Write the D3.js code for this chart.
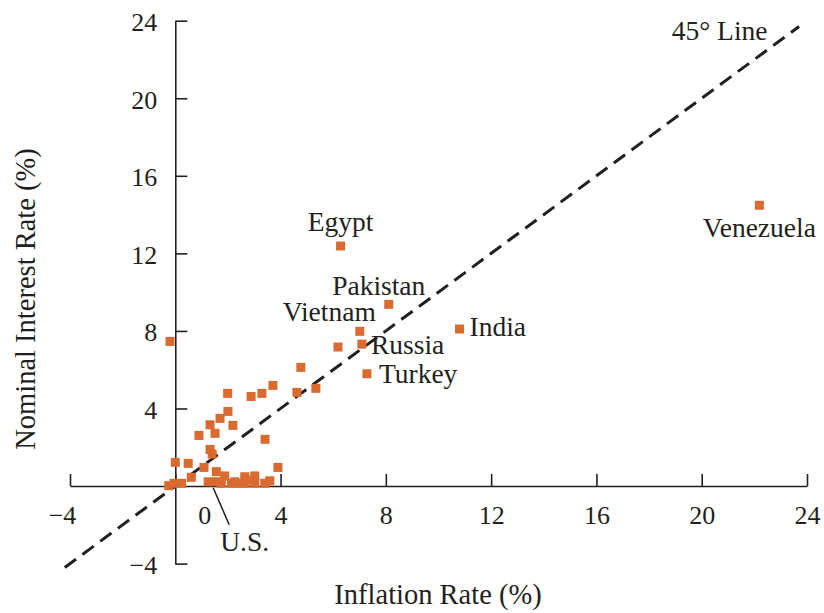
<!DOCTYPE html>
<html>
<head>
<meta charset="utf-8">
<script src="https://cdn.jsdelivr.net/npm/d3@7"></script>
<style>
  body { margin: 0; background: #fff; }
  #graf text { font-family: 'Liberation Serif', 'DejaVu Serif', serif; fill: #231f20; }
  .eje path, .eje line { stroke: #231f20; stroke-width: 1.6px; }
</style>
</head>
<body>
<div id="graf"></div>
<script>
// I. Datos
paises = ['Egypt', 'Pakistan', 'Vietnam', 'Russia', 'Turkey', 'India', 'Venezuela', 'U.S.']
inflacionPaises = [6.28, 8.11, 7.01, 7.09, 7.28, 10.80, 22.19, 1.25]
interesPaises   = [12.38, 9.37, 7.98, 7.32, 5.79, 8.10, 14.48, 0.22]

// resto de países sin etiqueta
inflacion = [-0.2, 4.77, 3.71, 3.29, 2.88, 1.99, 4.62, 5.34, 2.0, 1.70, 1.32, 2.19, 1.51, 0.90,
             3.41, 1.32, 1.40, 0.0, 0.49, 1.09, 3.90, 0.61, -0.25, -0.05, 0.24, 1.56, 1.88,
             1.56, 1.75, 2.13, 2.38, 2.64, 2.64, 3.02, 3.02, 3.40, 3.59, 2.89, 2.26, 6.18]
interes   = [7.46, 6.12, 5.19, 4.78, 4.62, 4.78, 4.83, 5.04, 3.85, 3.49, 3.16, 3.13, 2.72, 2.61,
             2.41, 1.89, 1.65, 1.22, 1.17, 0.96, 0.96, 0.45, 0.02, 0.14, 0.14, 0.74, 0.52,
             0.22, 0.14, 0.14, 0.14, 0.48, 0.14, 0.52, 0.14, 0.14, 0.27, 0.31, 0.22, 7.17]

ticksX = [-4, 0, 4, 8, 12, 16, 20, 24]
ticksY = [-4, 4, 8, 12, 16, 20, 24]
linea45 = [-4.2, 23.7]

// II. Configuración
ancho_total = 824
alto_total = 613
naranja = '#d96a30'
lado = 9

// posición de las etiquetas respecto a su punto (px)
etiquetas = {
  'Egypt':     { dx: 0,   dy: -15, anchor: 'middle' },
  'Pakistan':  { dx: -10, dy: -9,  anchor: 'middle' },
  'Vietnam':   { dx: 16,  dy: -10, anchor: 'end' },
  'Russia':    { dx: 9,   dy: 10,  anchor: 'start' },
  'Turkey':    { dx: 12,  dy: 9,   anchor: 'start' },
  'India':     { dx: 10,  dy: 7,   anchor: 'start' },
  'Venezuela': { dx: 0,   dy: 32,  anchor: 'middle' },
  'U.S.':      { dx: 12,  dy: 69,  anchor: 'start' }
}

graf = d3.select('#graf')
svg = graf.append('svg')
          .attr('width', ancho_total)
          .attr('height', alto_total)

x = d3.scaleLinear().domain([-4, 24]).range([70, 807])
y = d3.scaleLinear().domain([-4, 24]).range([563.6, 20.7])

// III. Ejes
xAxisCall = d3.axisBottom(x)
              .tickValues(ticksX)
              .tickSizeInner(-12)
              .tickSizeOuter(0)
              .tickPadding(20)
              .tickFormat(d3.format('d'))
xAxisGroup = svg.append('g')
                .attr('class', 'eje')
                .attr('transform', `translate(0, ${ y(0) })`)
                .call(xAxisCall)
xAxisGroup.selectAll('text')
          .style('font-size', '26px')
          .attr('dx', d => d == 0 ? 29 : (d < 0 ? -8 : 0))

yAxisCall = d3.axisLeft(y)
              .tickValues(ticksY)
              .tickSizeInner(-12)
              .tickSizeOuter(0)
              .tickPadding(18)
              .tickFormat(d3.format('d'))
yAxisGroup = svg.append('g')
                .attr('class', 'eje')
                .attr('transform', `translate(${ x(0) }, 0)`)
                .call(yAxisCall)
yAxisGroup.selectAll('text')
          .style('font-size', '26px')
          .attr('dy', '0.38em')

// IV. Línea de 45°
svg.append('line')
   .attr('x1', x(linea45[0])).attr('y1', y(linea45[0]))
   .attr('x2', x(linea45[1])).attr('y2', y(linea45[1]))
   .style('stroke', '#231f20')
   .style('stroke-width', 3)
   .style('stroke-dasharray', '14,8')

svg.append('text')
   .attr('x', x(22.5))
   .attr('y', y(23))
   .attr('text-anchor', 'end')
   .style('font-size', '27.5px')
   .text('45° Line')

// V. Puntos
todosX = inflacion.concat(inflacionPaises)
todosY = interes.concat(interesPaises)
puntos = d3.range(todosX.length).map(i => ({ inf: todosX[i], tasa: todosY[i] }))

svg.selectAll('rect.punto')
   .data(puntos)
   .enter()
   .append('rect')
     .attr('class', 'punto')
     .attr('x', d => x(d.inf) - lado / 2)
     .attr('y', d => y(d.tasa) - lado / 2)
     .attr('width', lado)
     .attr('height', lado)
     .style('fill', naranja)

// VI. Etiquetas de países
datosPaises = paises.map((p, i) => ({ nombre: p, inf: inflacionPaises[i], tasa: interesPaises[i] }))

svg.selectAll('text.pais')
   .data(datosPaises)
   .enter()
   .append('text')
     .attr('class', 'pais')
     .attr('x', d => x(d.inf) + etiquetas[d.nombre].dx)
     .attr('y', d => y(d.tasa) + etiquetas[d.nombre].dy)
     .attr('text-anchor', d => etiquetas[d.nombre].anchor)
     .style('font-size', '27.5px')
     .text(d => d.nombre)

// línea guía de U.S.
us = datosPaises.find(d => d.nombre == 'U.S.')
svg.append('line')
   .attr('x1', x(us.inf) + 5).attr('y1', y(us.tasa) + 6)
   .attr('x2', x(us.inf) + 21).attr('y2', y(us.tasa) + 43)
   .style('stroke', '#231f20')
   .style('stroke-width', 1.5)

// VII. Títulos de ejes
svg.append('text')
   .attr('x', 438)
   .attr('y', 604)
   .attr('text-anchor', 'middle')
   .style('font-size', '28.5px')
   .text('Inflation Rate (%)')

svg.append('text')
   .attr('transform', 'translate(35, 299) rotate(-90)')
   .attr('text-anchor', 'middle')
   .style('font-size', '28.5px')
   .text('Nominal Interest Rate (%)')
</script>
</body>
</html>
